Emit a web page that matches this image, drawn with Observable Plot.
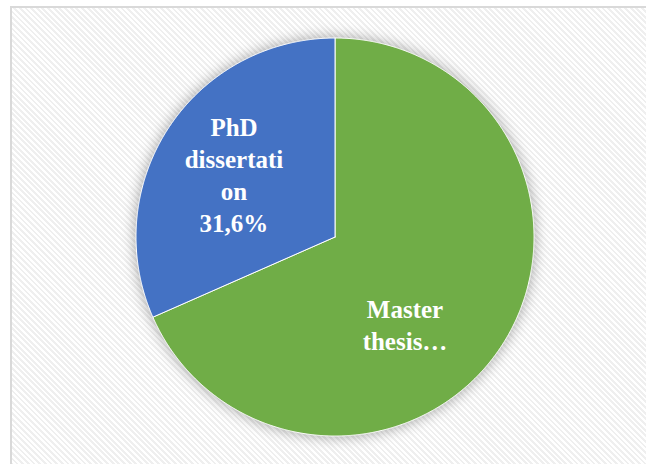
<!DOCTYPE html>
<html>
<head>
<meta charset="utf-8">
<script src="https://cdn.jsdelivr.net/npm/d3@7"></script>
<script src="https://cdn.jsdelivr.net/npm/@observablehq/plot@0.6"></script>
<style>
  html, body { margin: 0; padding: 0; background: #fff; }
  #wrap { position: relative; width: 646px; height: 464px; overflow: hidden; background: #fff; }
  #frame { position: absolute; left: 10px; top: 6px; width: 650px; height: 470px;
    border: 2px solid #d9d9d9; box-sizing: border-box;
    background: repeating-linear-gradient(45deg, #ffffff 0px, #ffffff 2px, #efefef 2px, #efefef 4px); }
  #chart { position: absolute; left: 0; top: 0; }
</style>
</head>
<body>
<div id="wrap"><div id="frame"></div><div id="chart"></div></div>
<script>
const categories = ["Master thesis", "PhD dissertation"];
const shares = [68.4, 31.6];
const labels = ["Master\nthesis…", "PhD\ndissertati\non\n31,6%"];
const colors = ["#70AD47", "#4472C4"];

const arcs = d3.pie().sort(null).value(d => d)(shares);
const pts = [];
arcs.forEach((a, i) => {
  pts.push({cat: categories[i], x: 0, y: 0});
  const n = Math.max(2, Math.ceil((a.endAngle - a.startAngle) / 0.005));
  for (let k = 0; k <= n; k++) {
    const t = a.startAngle + (a.endAngle - a.startAngle) * k / n;
    pts.push({cat: categories[i], x: Math.sin(t), y: Math.cos(t)});
  }
  pts.push({cat: categories[i], x: 0, y: 0});
});
const labelData = arcs.map((a, i) => {
  const m = (a.startAngle + a.endAngle) / 2;
  return {cat: categories[i], text: labels[i], x: 0.6 * Math.sin(m), y: 0.6 * Math.cos(m)};
});

const plot = Plot.plot({
  width: 646, height: 464,
  margin: 0,
  style: {background: "transparent"},
  x: {domain: [-1, 1], range: [135.5, 533.5], axis: null},
  y: {domain: [-1, 1], range: [435.5, 37.5], axis: null},
  color: {domain: categories, range: colors},
  marks: [
    Plot.line(pts, {x: "x", y: "y", z: "cat", fill: "cat", stroke: "#ffffff", strokeWidth: 1, curve: "linear"}),
    Plot.text([labelData[0]], {x: "x", y: "y", text: "text", dx: -30, dy: 22,
      fill: "white", fontSize: 25, fontWeight: "bold", fontFamily: "Liberation Serif", lineHeight: 1.28}),
    Plot.text([labelData[1]], {x: "x", y: "y", text: "text", dx: -1, dy: 2,
      fill: "white", fontSize: 25, fontWeight: "bold", fontFamily: "Liberation Serif", lineHeight: 1.28})
  ]
});
const g = plot.querySelector('g[aria-label="line"]');
if (g) g.style.filter = "drop-shadow(0px 0px 7px rgba(0,0,0,0.35))";
document.getElementById("chart").appendChild(plot);
</script>
</body>
</html>
